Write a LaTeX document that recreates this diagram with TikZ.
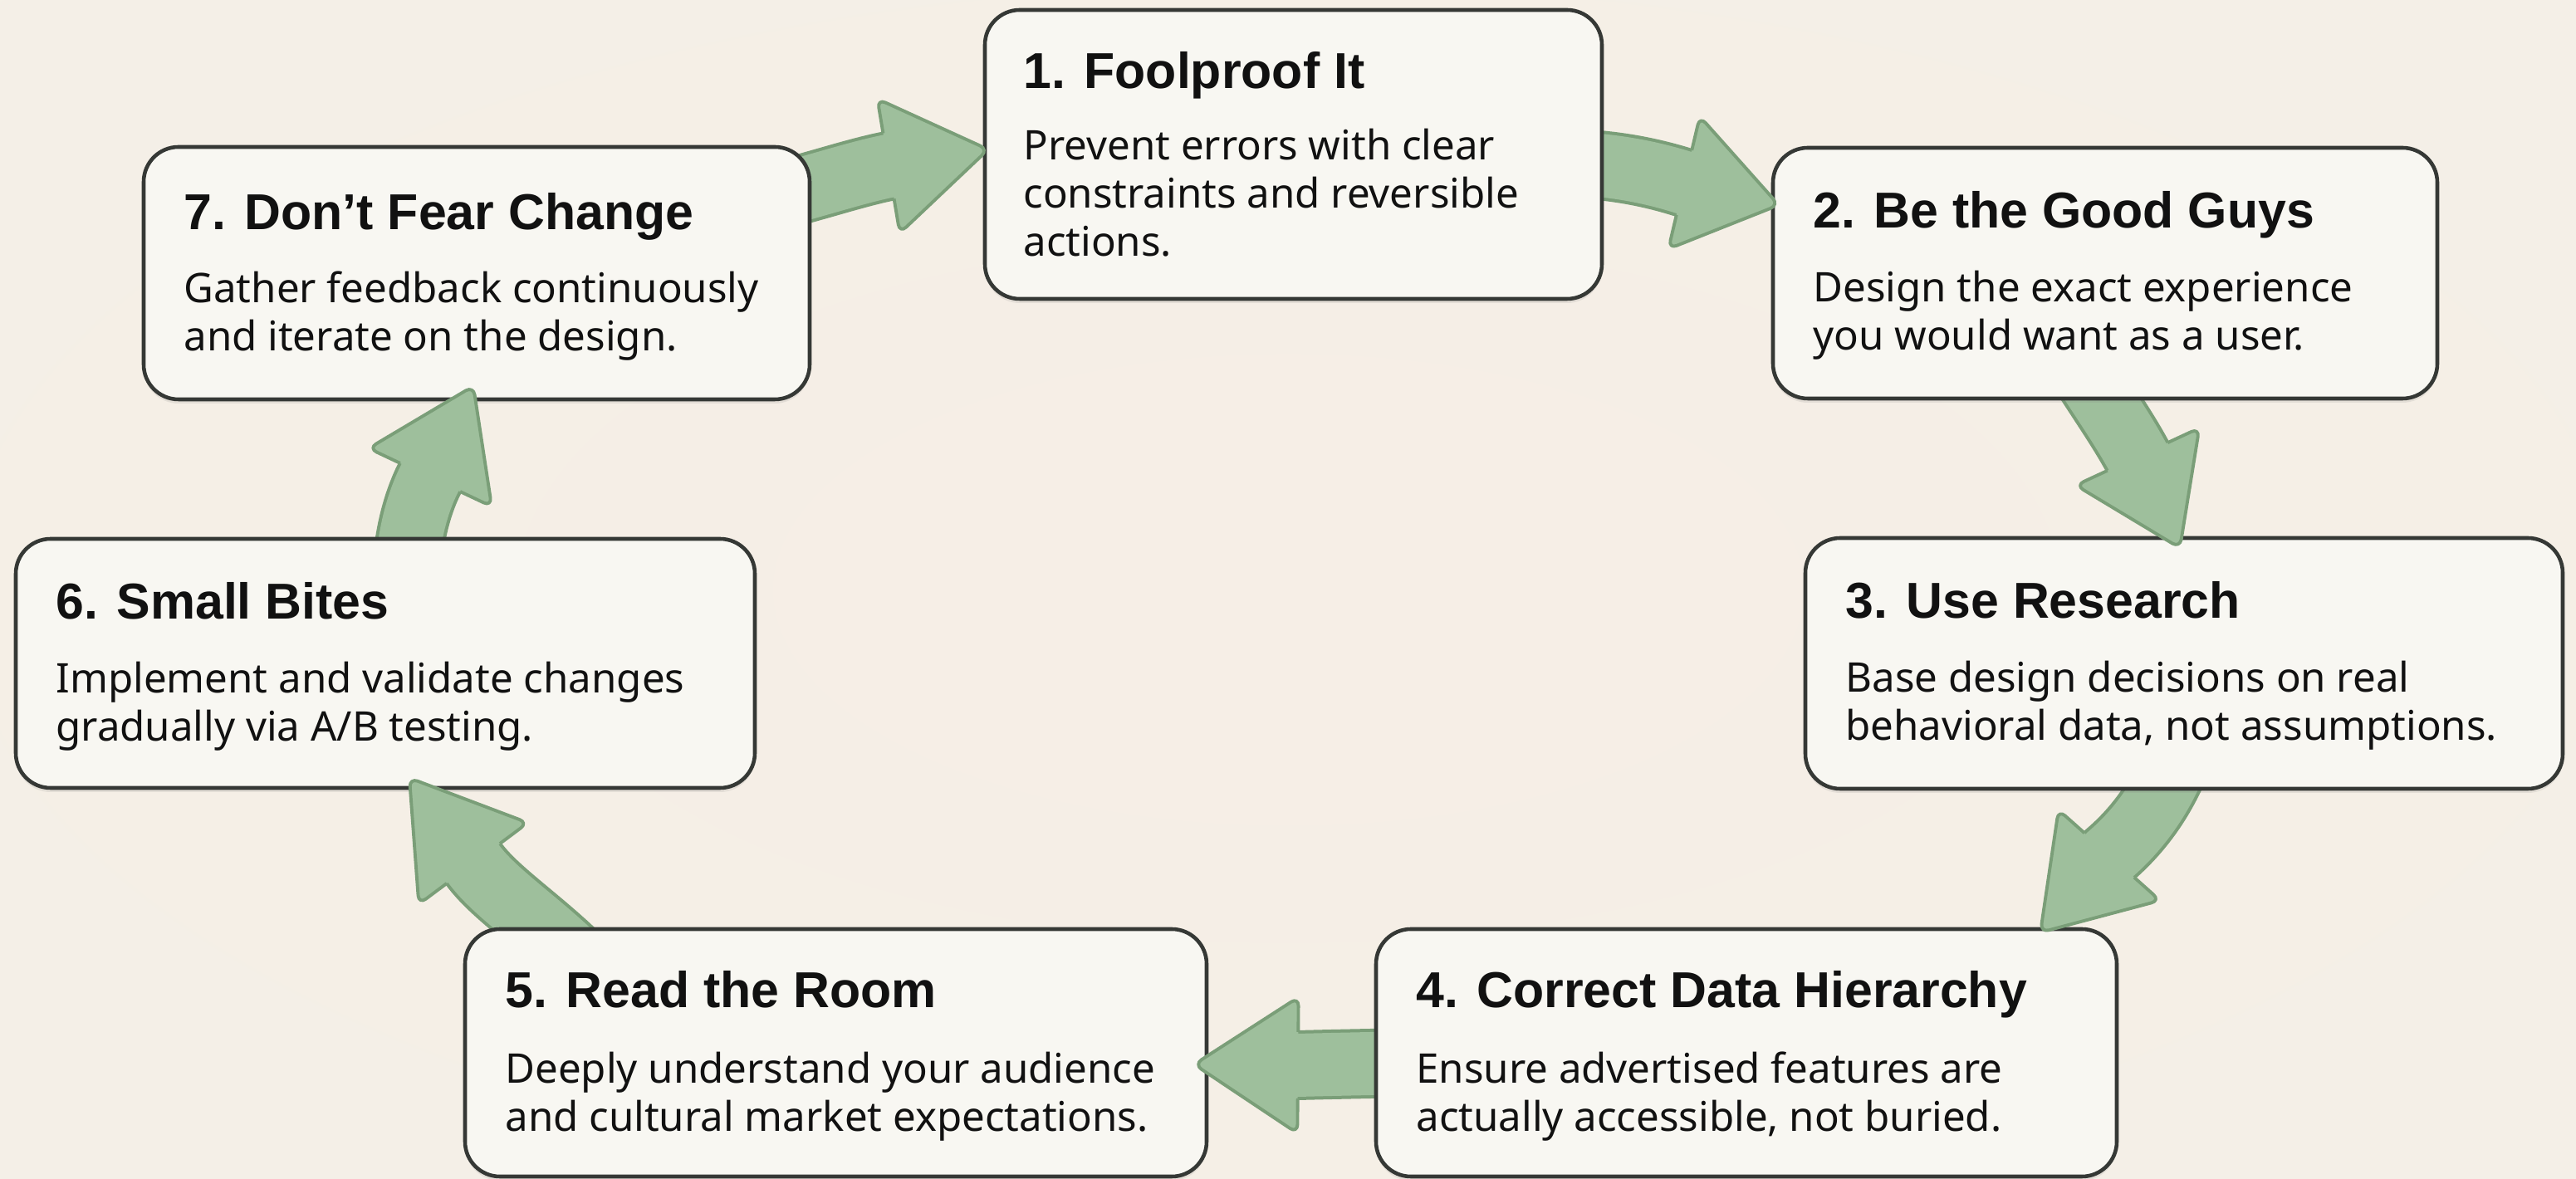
\documentclass[tikz,border=0pt]{standalone}
\usepackage{fontspec}
\setmainfont{Noto Sans}
\newfontfamily\headfont{Liberation Sans}
\usetikzlibrary{calc,shadows}

\definecolor{bg}{HTML}{F3F0E7}
\definecolor{bgmid}{HTML}{F6EEE6}
\definecolor{cardfill}{HTML}{F8F7F2}
\definecolor{cardline}{HTML}{353835}
\definecolor{leaf}{HTML}{9EBF9C}
\definecolor{leafline}{HTML}{7A9E78}
\definecolor{ink}{HTML}{111111}

% soft warm glow in the middle of the page
\pgfdeclareradialshading{glow}{\pgfpoint{0bp}{0bp}}{%
  color(0bp)=(bgmid); color(18bp)=(bgmid!70!bg); color(45bp)=(bg); color(100bp)=(bg)}

% stacked body lines; the node's baseline is that of the first line
\newcommand\cardlines[1]{\vtop{\baselineskip=16.5pt\halign{##\hfil\cr#1\crcr}}}

% curved shaft of a block arrow: start, control, control, head base, tip
\newcommand\arrowshaft[5]{%
  \draw[leafline, line width=0.84cm] (#1) .. controls (#2) and (#3) .. (#4) -- ($(#4)!0.15cm!(#5)$);
  \draw[leaf, line width=0.76cm] (#1) .. controls (#2) and (#3) .. (#4) -- ($(#4)!0.15cm!(#5)$);
}
% triangular head of a block arrow: head base, tip
\newcommand\arrowhead[2]{%
  \fill[leaf, rounded corners=3pt] ($(#1)!0.82cm!90:(#2)$) -- (#2) -- ($(#1)!0.82cm!-90:(#2)$) -- cycle;
  \draw[leafline, line width=1.1pt, rounded corners=3pt, line join=round]
    ($(#1)!0.40cm!90:(#2)$) -- ($(#1)!0.82cm!90:(#2)$) -- (#2)
    -- ($(#1)!0.82cm!-90:(#2)$) -- ($(#1)!0.40cm!-90:(#2)$);
}

\tikzset{
  card/.style={draw=cardline, line width=1.3pt, fill=cardfill, rounded corners=0.42cm,
    inner sep=0pt, drop shadow={opacity=0.15, shadow xshift=0pt, shadow yshift=-0.05cm}},
  ttl/.style={anchor=base west, inner sep=0pt, text=ink, font=\headfont\fontsize{17.3}{20}\selectfont\bfseries},
  txt/.style={anchor=base west, inner sep=0pt, text=ink, font=\fontsize{14}{16.5}\selectfont},
}

\begin{document}
\begin{tikzpicture}
\useasboundingbox (0,0) rectangle (31.02,14.20);
\shade[shading=glow] (0,0) rectangle (31.02,14.20);

% arrow geometry
\coordinate (s71) at (9.20,11.80);  \coordinate (p71) at (9.80,11.95);
\coordinate (q71) at (10.30,12.12); \coordinate (m71) at (10.70,12.20); \coordinate (t71) at (11.90,12.40);
\coordinate (s12) at (18.80,12.23); \coordinate (p12) at (19.40,12.23);
\coordinate (q12) at (19.90,12.12); \coordinate (m12) at (20.28,12.00); \coordinate (t12) at (21.42,11.73);
\coordinate (s23) at (25.05,9.80);  \coordinate (p23) at (25.30,9.40);
\coordinate (q23) at (25.55,9.05);  \coordinate (m23) at (25.74,8.70);  \coordinate (t23) at (26.25,7.60);
\coordinate (s34) at (26.25,5.15);  \coordinate (p34) at (26.05,4.60);
\coordinate (q34) at (25.75,4.20);  \coordinate (m34) at (25.40,3.90);  \coordinate (t34) at (24.57,2.97);
\coordinate (s45) at (17.00,1.40);  \coordinate (p45) at (16.50,1.39);
\coordinate (q45) at (16.00,1.38);  \coordinate (m45) at (15.63,1.37);  \coordinate (t45) at (14.38,1.38);
\coordinate (s56) at (7.00,2.60);   \coordinate (p56) at (6.50,3.10);
\coordinate (q56) at (5.95,3.45);   \coordinate (m56) at (5.70,3.80);   \coordinate (t56) at (4.93,4.83);
\coordinate (s67) at (4.90,7.30);   \coordinate (p67) at (4.92,7.80);
\coordinate (q67) at (5.05,8.20);   \coordinate (m67) at (5.18,8.45);   \coordinate (t67) at (5.70,9.55);

% shafts run underneath the cards
\arrowshaft{s71}{p71}{q71}{m71}{t71}
\arrowshaft{s12}{p12}{q12}{m12}{t12}
\arrowshaft{s23}{p23}{q23}{m23}{t23}
\arrowshaft{s34}{p34}{q34}{m34}{t34}
\arrowshaft{s45}{p45}{q45}{m45}{t45}
\arrowshaft{s56}{p56}{q56}{m56}{t56}
\arrowshaft{s67}{p67}{q67}{m67}{t67}

% cards
\node[card, minimum width=7.43cm, minimum height=3.48cm] (b1) at (15.575,12.34) {};
\node[card, minimum width=8.00cm, minimum height=3.02cm] (b2) at (25.35,10.91) {};
\node[card, minimum width=9.12cm, minimum height=3.02cm] (b3) at (26.30,6.21) {};
\node[card, minimum width=8.92cm, minimum height=2.98cm] (b4) at (21.03,1.52) {};
\node[card, minimum width=8.93cm, minimum height=2.98cm] (b5) at (10.065,1.52) {};
\node[card, minimum width=8.90cm, minimum height=3.00cm] (b6) at (4.64,6.21) {};
\node[card, minimum width=8.02cm, minimum height=3.04cm] (b7) at (5.74,10.91) {};

% card texts
\node[ttl] (h1) at ($(b1.north west)+(0.48,-0.97)$) {1. Foolproof It};
\node[txt] (d1) at ($(b1.north west)+(0.48,-1.83)$) {\cardlines{Prevent errors with clear\cr constraints and reversible\cr actions.}};
\node[ttl] (h2) at ($(b2.north west)+(0.50,-0.99)$) {2. Be the Good Guys};
\node[txt] (d2) at ($(b2.north west)+(0.50,-1.88)$) {\cardlines{Design the exact experience\cr you would want as a user.}};
\node[ttl] (h3) at ($(b3.north west)+(0.50,-0.99)$) {3. Use Research};
\node[txt] (d3) at ($(b3.north west)+(0.50,-1.88)$) {\cardlines{Base design decisions on real\cr behavioral data, not assumptions.}};
\node[ttl] (h4) at ($(b4.north west)+(0.50,-0.97)$) {4. Correct Data Hierarchy};
\node[txt] (d4) at ($(b4.north west)+(0.50,-1.88)$) {\cardlines{Ensure advertised features are\cr actually accessible, not buried.}};
\node[ttl] (h5) at ($(b5.north west)+(0.50,-0.97)$) {5. Read the Room};
\node[txt] (d5) at ($(b5.north west)+(0.50,-1.88)$) {\cardlines{Deeply understand your audience\cr and cultural market expectations.}};
\node[ttl] (h6) at ($(b6.north west)+(0.50,-0.99)$) {6. Small Bites};
\node[txt] (d6) at ($(b6.north west)+(0.50,-1.88)$) {\cardlines{Implement and validate changes\cr gradually via A/B testing.}};
\node[ttl] (h7) at ($(b7.north west)+(0.50,-1.02)$) {7. Don’t Fear Change};
\node[txt] (d7) at ($(b7.north west)+(0.50,-1.90)$) {\cardlines{Gather feedback continuously\cr and iterate on the design.}};

% arrow heads sit on top of the cards they point at
\arrowhead{m71}{t71}
\arrowhead{m12}{t12}
\arrowhead{m23}{t23}
\arrowhead{m34}{t34}
\arrowhead{m45}{t45}
\arrowhead{m56}{t56}
\arrowhead{m67}{t67}
\end{tikzpicture}
\end{document}
